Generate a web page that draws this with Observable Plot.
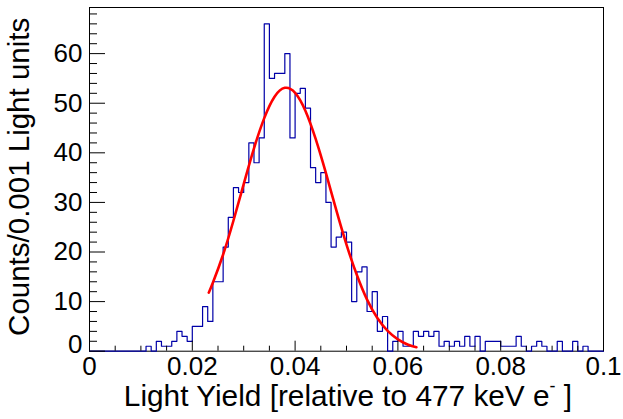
<!DOCTYPE html>
<html>
<head>
<meta charset="utf-8">
<script src="https://cdn.jsdelivr.net/npm/d3@7"></script>
<script src="https://cdn.jsdelivr.net/npm/@observablehq/plot@0.6"></script>
<style>
  html, body { margin: 0; padding: 0; background: #ffffff; }
  #chart { width: 623px; height: 419px; }
</style>
</head>
<body>
<div id="chart"></div>
<script>
// ---- Data ----
const binLow = 0;          // lower edge of first bin
const binWidth = 0.001;    // bin width (Light units)
const counts = [
  0, 0, 0, 0, 0, 0, 0, 0, 0, 0,
  0, 1, 0, 2, 1, 1, 2, 4, 3, 2,
  5, 5, 9, 6, 14, 14, 21, 27, 33, 32,
  34, 42, 38, 43, 66, 55, 56, 56, 60, 43,
  52, 53, 49, 37, 34, 36, 30, 21, 23, 24,
  22, 10, 16, 17, 8, 12, 4, 7, 0, 2,
  4, 1, 1, 4, 3, 4, 3, 4, 1, 2,
  1, 2, 1, 3, 1, 3, 0, 2, 2, 2,
  1, 1, 1, 3, 1, 0, 1, 2, 1, 0,
  0, 2, 0, 0, 2, 0, 1, 0, 0, 0
];
// Red fit curve
const fitX = [0.0232, 0.024, 0.026, 0.028, 0.030, 0.032, 0.034, 0.036, 0.038, 0.040,
              0.042, 0.044, 0.046, 0.048, 0.050, 0.052, 0.054, 0.056, 0.058, 0.060, 0.062, 0.0636];
const fitY = [11.8, 13.8, 19.5, 26.3, 33.7, 40.9, 47.0, 51.3, 53.1, 52.1,
              48.5, 42.8, 35.9, 28.5, 21.5, 15.4, 10.4, 6.7, 4.1, 2.4, 1.3, 0.8];
// Axis ticks and labels
const xMajorTicks = [0, 0.02, 0.04, 0.06, 0.08, 0.1];
const xMajorLabels = ["0", "0.02", "0.04", "0.06", "0.08", "0.1"];
const xMinorTicks = [0.005, 0.01, 0.015, 0.025, 0.03, 0.035, 0.045, 0.05, 0.055,
                     0.065, 0.07, 0.075, 0.085, 0.09, 0.095];
const yMajorTicks = [0, 10, 20, 30, 40, 50, 60];
const yMinorTicks = [2, 4, 6, 8, 12, 14, 16, 18, 22, 24, 26, 28, 32, 34, 36, 38,
                     42, 44, 46, 48, 52, 54, 56, 58, 62, 64, 66, 68];
const xDomain = [0, 0.1];
const yDomain = [0, 69.3];
const xTitle = "Light Yield [relative to 477 keV e";
const xTitleSup = "-";
const xTitleEnd = " ]";
const yTitle = "Counts/0.001 Light units";

// ---- Build tables ----
const histPoints = counts.map((c, i) => ({x: binLow + i * binWidth, y: c}));
histPoints.push({x: binLow + counts.length * binWidth, y: counts[counts.length - 1]});
const fitPoints = fitX.map((x, i) => ({x, y: fitY[i]}));

const W = 623, H = 419;
const mL = 89, mR = 20, mT = 7, mB = 68.3;
const innerW = W - mL - mR, innerH = H - mT - mB;
const font = "'Liberation Sans', Arial, Helvetica, sans-serif";

const chart = Plot.plot({
  width: W, height: H,
  marginLeft: mL, marginRight: mR, marginTop: mT, marginBottom: mB,
  x: {domain: xDomain},
  y: {domain: yDomain},
  style: {fontFamily: font, background: "white", color: "black"},
  marks: [
    Plot.frame({stroke: "black", strokeWidth: 1}),
    Plot.line(histPoints, {x: "x", y: "y", curve: "step-after", stroke: "#0000a8", strokeWidth: 1.2}),
    Plot.line(fitPoints, {x: "x", y: "y", curve: "natural", stroke: "#ff0000", strokeWidth: 2.6}),
    Plot.tickX(xMinorTicks, {x: d => d, insetTop: innerH - 5, stroke: "black"}),
    Plot.tickX(xMajorTicks, {x: d => d, insetTop: innerH - 10, stroke: "black"}),
    Plot.tickY(yMinorTicks, {y: d => d, insetRight: innerW - 8, stroke: "black"}),
    Plot.tickY(yMajorTicks, {y: d => d, insetRight: innerW - 16, stroke: "black"}),
    Plot.axisX(xMajorTicks, {tickSize: 0, tickPadding: 5, fontSize: 26, label: null,
      tickFormat: d => xMajorLabels[xMajorTicks.indexOf(d)]}),
    Plot.axisY(yMajorTicks.filter(d => d !== 0), {tickSize: 0, tickPadding: 7, fontSize: 26, label: null}),
    Plot.axisY([0], {tickSize: 0, tickPadding: 7, fontSize: 26, label: null, dy: -7})
  ]
});
document.getElementById("chart").appendChild(chart);

// Axis titles (real text with a superscript)
const svg = d3.select(chart);
const xt = svg.append("text")
  .attr("x", mL + innerW / 2 + 2)
  .attr("y", 406)
  .attr("text-anchor", "middle")
  .attr("font-family", font)
  .attr("font-size", 29.8)
  .attr("fill", "black");
xt.append("tspan").text(xTitle);
xt.append("tspan").attr("dy", -14).attr("font-size", 18).text(xTitleSup);
xt.append("tspan").attr("dy", 14).attr("font-size", 29.8).text(xTitleEnd);

svg.append("text")
  .attr("transform", `translate(28.5, ${mT + innerH / 2 - 2}) rotate(-90)`)
  .attr("text-anchor", "middle")
  .attr("font-family", font)
  .attr("font-size", 29.5)
  .attr("fill", "black")
  .text(yTitle);
</script>
</body>
</html>
